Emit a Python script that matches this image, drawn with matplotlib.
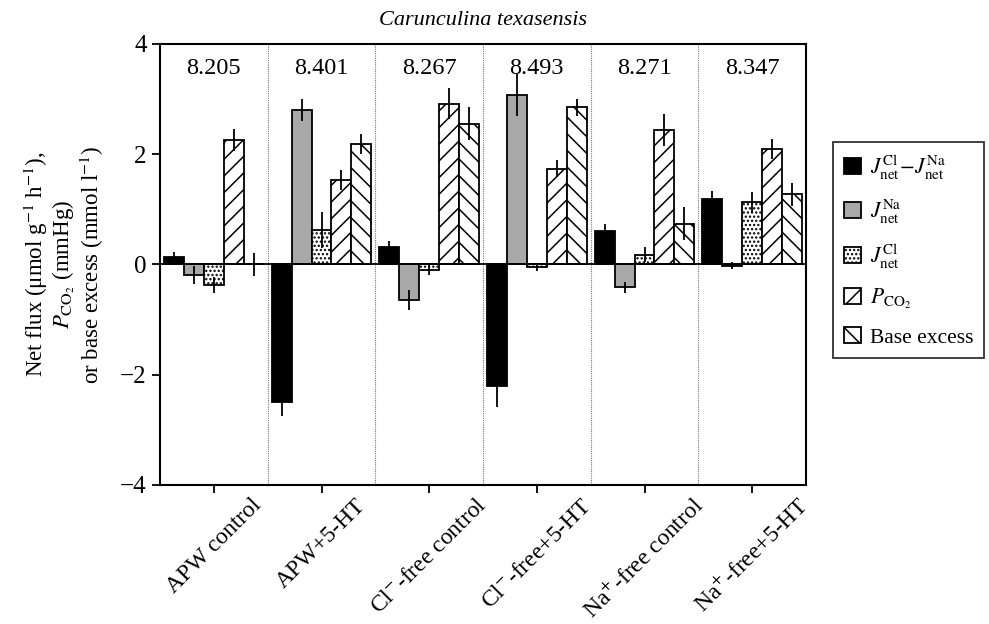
import numpy as np
import matplotlib
matplotlib.use("Agg")
import matplotlib.pyplot as plt
from matplotlib.patches import Patch

plt.rcParams['font.family'] = ['Liberation Serif', 'DejaVu Serif']
plt.rcParams['mathtext.fontset'] = 'stix'
plt.rcParams['hatch.linewidth'] = 1.1

title = "Carunculina texasensis"
groups = ["APW control", "APW+5-HT", "Cl$^{-}$-free control", "Cl$^{-}$-free+5-HT",
          "Na$^{+}$-free control", "Na$^{+}$-free+5-HT"]
ph_values = ["8.205", "8.401", "8.267", "8.493", "8.271", "8.347"]

series_names = [r"$J_{\rm net}^{\rm Cl}\!-\!J_{\rm net}^{\rm Na}$",
                r"$J_{\rm net}^{\rm Na}$",
                r"$J_{\rm net}^{\rm Cl}$",
                r"$P_{\rm CO_2}$",
                "Base excess"]

diff_vals = [0.13, -2.50, 0.31, -2.20, 0.61, 1.18]
diff_err = [0.10, 0.25, 0.11, 0.39, 0.13, 0.15]
jna_vals = [-0.19, 2.80, -0.64, 3.07, -0.41, -0.02]
jna_err = [0.17, 0.20, 0.18, 0.38, 0.10, 0.06]
jcl_vals = [-0.37, 0.62, -0.10, -0.05, 0.18, 1.13]
jcl_err = [0.15, 0.33, 0.09, 0.07, 0.14, 0.18]
pco2_vals = [2.25, 1.54, 2.92, 1.74, 2.44, 2.10]
pco2_err = [0.20, 0.18, 0.28, 0.15, 0.29, 0.18]
be_vals = [0.0, 2.19, 2.55, 2.85, 0.74, 1.27]
be_err = [0.20, 0.18, 0.30, 0.15, 0.30, 0.20]

values = [diff_vals, jna_vals, jcl_vals, pco2_vals, be_vals]
errors = [diff_err, jna_err, jcl_err, pco2_err, be_err]
colors = ['black', '#a8a8a8', 'white', 'white', 'white']
hatches = [None, None, '....', '//', '\\\\']

fig = plt.figure(figsize=(9.89, 6.24), dpi=100)
ax = fig.add_axes([0.1618, 0.2228, 0.6532, 0.7067])

x = np.arange(len(groups))
w = 0.185
for i in range(5):
    ax.bar(x + (i - 2) * w, values[i], w, color=colors[i], edgecolor='black',
           linewidth=1.3, hatch=hatches[i], zorder=2)
    ax.errorbar(x + (i - 2) * w, values[i], yerr=errors[i], fmt='none',
                ecolor='black', elinewidth=1.3, capsize=0, zorder=3)

ax.axhline(0, color='black', lw=1.3, zorder=4)
for b in np.arange(0.5, len(groups) - 0.5, 1):
    ax.axvline(b, color='#777777', lw=0.8, ls=(0, (1, 1)), zorder=1)

for xi, t in zip(x, ph_values):
    ax.text(xi, 3.55, t, ha='center', va='center', fontsize=17.5)

ax.set_xlim(-0.5, len(groups) - 0.5)
ax.set_ylim(-4, 4)
ax.set_yticks([-4, -2, 0, 2, 4])
ax.set_yticklabels(['\u22124', '\u22122', '0', '2', '4'])
ax.set_xticks(x)
ax.set_xticklabels(groups, rotation=45, ha='center', va='top', fontsize=17)
ax.tick_params(axis='y', labelsize=18, direction='out', length=6, width=1.3)
ax.tick_params(axis='x', direction='out', length=6, width=1.3, pad=1)
for s in ax.spines.values():
    s.set_linewidth(1.5)

ax.set_title(title, fontsize=16, style='italic', pad=14)
ax.set_ylabel("Net flux (\u03bcmol g$^{-1}$ h$^{-1}$),\n$P_{\\rm CO_2}$ (mmHg)\nor base excess (mmol l$^{-1}$)",
              fontsize=16.5, linespacing=1.05, labelpad=10)

handles = [Patch(facecolor=colors[i], edgecolor='black', hatch=hatches[i], linewidth=1.3)
           for i in range(5)]
leg = ax.legend(handles, series_names, loc='center left', bbox_to_anchor=(1.042, 0.532),
                borderaxespad=0, fontsize=15.5, frameon=True, fancybox=False, edgecolor='black',
                handlelength=0.8, handleheight=0.8, handletextpad=0.4,
                labelspacing=0.75, borderpad=0.5)
leg.get_frame().set_linewidth(1.3)

fig.savefig("out.png", dpi=100)
